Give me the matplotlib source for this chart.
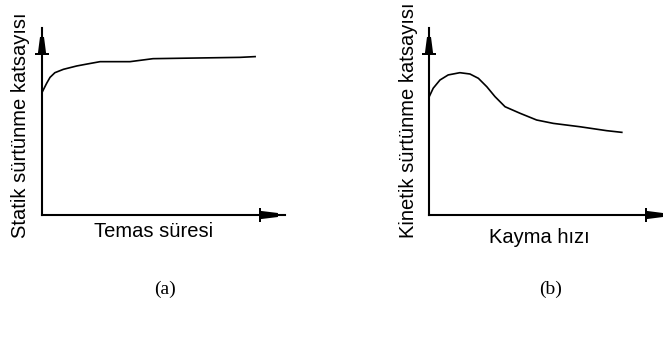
import matplotlib
matplotlib.use("Agg")
import matplotlib.pyplot as plt
from matplotlib.patches import Polygon

# --- veri (keyfi birimler) ---
temas_suresi = [0.0, 0.05, 0.19, 0.33, 0.53, 0.88, 1.43, 1.84, 2.39, 3.62, 4.57, 8.15, 8.77]
statik_katsayi = [6.55, 6.68, 7.04, 7.36, 7.61, 7.79, 7.97, 8.07, 8.20, 8.20, 8.36, 8.43, 8.47]

kayma_hizi = [0.01, 0.18, 0.47, 0.82, 1.32, 1.75, 2.11, 2.47, 2.82, 3.25, 3.89, 4.60, 5.31, 6.45, 7.59, 8.24]
kinetik_katsayi = [6.33, 6.78, 7.22, 7.49, 7.61, 7.54, 7.31, 6.86, 6.33, 5.79, 5.44, 5.08, 4.90, 4.72, 4.51, 4.42]

SANS = "Liberation Sans"
SERIF = "Liberation Serif"
W, H = 663, 337

fig = plt.figure(figsize=(6.63, 3.37), dpi=100)


def ok(ax, base, tip, dikey):
    # eksen ucundaki ok: dik cizgi + daralan govde (piksel -> eksen orani)
    pos = ax.get_position()
    px = 1 / (pos.width * W)
    py = 1 / (pos.height * H)
    if dikey:
        a, b = px, py
        govde = [(-4.2 * a, base), (-2 * a, tip), (2 * a, tip), (4.2 * a, base)]
        bar = [(-7 * a, base - 0.8 * b), (-7 * a, base + 0.8 * b),
               (7 * a, base + 0.8 * b), (7 * a, base - 0.8 * b)]
    else:
        a, b = py, px
        govde = [(base, -4.2 * a), (tip, -2 * a), (tip, 2 * a), (base, 4.2 * a)]
        bar = [(base - 0.8 * b, -7 * a), (base + 0.8 * b, -7 * a),
               (base + 0.8 * b, 7 * a), (base - 0.8 * b, 7 * a)]
    for pts in (govde, bar):
        ax.add_patch(Polygon(pts, closed=True, transform=ax.transAxes,
                             color="black", lw=0, clip_on=False))


def eksen_ciz(ax, xok):
    ax.set_xlim(0, 10)
    ax.set_ylim(0, 10)
    for s in ("top", "right"):
        ax.spines[s].set_visible(False)
    for s in ("left", "bottom"):
        ax.spines[s].set_linewidth(1.5)
    ax.set_xticks([])
    ax.set_yticks([])
    ax.patch.set_alpha(0)
    ok(ax, 0.861, 0.952, True)
    ok(ax, xok[0], xok[1], False)


# (a)
ax1 = fig.add_axes([42 / W, 122 / H, 243 / W, 187 / H])
ax1.plot(temas_suresi, statik_katsayi, color="black", lw=1.2)
eksen_ciz(ax1, (0.897, 0.971))

# (b)
ax2 = fig.add_axes([429 / W, 122 / H, 234 / W, 187 / H])
ax2.plot(kayma_hizi, kinetik_katsayi, color="black", lw=1.2)
eksen_ciz(ax2, (0.927, 1.0))

fig.text(21 / W, 1 - 125 / H, "Statik sürtünme katsayısı", rotation=90,
         ha="center", va="center", fontsize=14.5, family=SANS)
fig.text(154 / W, 1 - 237 / H, "Temas süresi", ha="center", va="baseline",
         fontsize=14.5, family=SANS)
fig.text(408 / W, 1 - 120 / H, "Kinetik sürtünme katsayısı", rotation=90,
         ha="center", va="center", fontsize=14.5, family=SANS)
fig.text(539 / W, 1 - 243 / H, "Kayma hızı", ha="center", va="baseline",
         fontsize=14.5, family=SANS)

fig.text(165 / W, 1 - 289 / H, "(a)", ha="center", va="center",
         fontsize=14, family=SERIF)
fig.text(551 / W, 1 - 289 / H, "(b)", ha="center", va="center",
         fontsize=14, family=SERIF)

fig.savefig("out.png", dpi=100)
